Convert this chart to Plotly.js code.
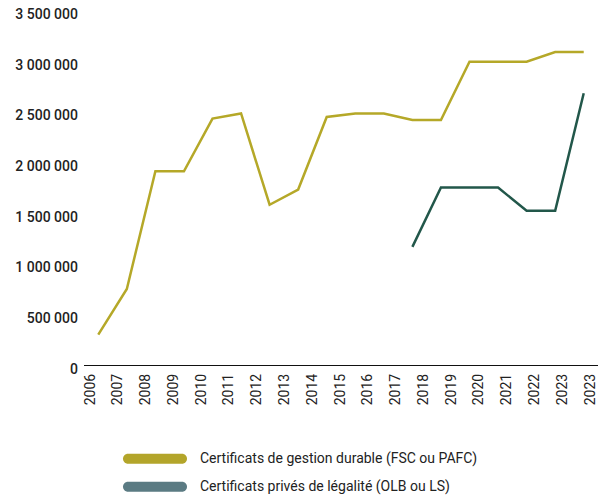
<!DOCTYPE html>
<html>
<head>
<meta charset="utf-8">
<script src="https://cdn.plot.ly/plotly-3.0.1.min.js"></script>
<style>
  html, body { margin: 0; padding: 0; background: #ffffff; }
  #chart { width: 598px; height: 497px; }
</style>
</head>
<body>
<div id="chart"></div>
<script>
// ---- Data ----
const years = ['2006','2007','2008','2009','2010','2011','2012','2013','2014','2015','2016','2017','2018','2019','2020','2021','2022','2023'];
const tickLabels = ['2006','2007','2008','2009','2010','2011','2012','2013','2014','2015','2016','2017','2018','2019','2020','2021','2022','2023','2023'];
const seriesNames = ['Certificats de gestion durable (FSC ou PAFC)', 'Certificats privés de légalité (OLB ou LS)'];
const fscPafc = [300000, 750000, 1910000, 1910000, 2430000, 2480000, 1580000, 1730000, 2445000, 2480000, 2480000, 2415000, 2415000, 2990000, 2990000, 2990000, 3085000, 3085000];
const olbLs = [null, null, null, null, null, null, null, null, null, null, null, 1165000, 1750000, 1750000, 1750000, 1520000, 1520000, 2680000];
const yTicks = [0, 500000, 1000000, 1500000, 2000000, 2500000, 3000000, 3500000];

// ---- Style ----
const lineColors = ['#b5a828', '#22574a'];
const legendColors = ['#b3a52a', '#5b7b83'];
const W = 598, H = 497;
const M = {l: 84, r: 0, t: 10, b: 132};
const plotW = W - M.l - M.r, plotH = H - M.t - M.b;
const font = 'Roboto, "Open Sans", sans-serif';

const traces = [
  {x: years, y: fscPafc, type: 'scatter', mode: 'lines', name: seriesNames[0],
   line: {color: lineColors[0], width: 2.5}, showlegend: false, hoverinfo: 'x+y'},
  {x: years, y: olbLs, type: 'scatter', mode: 'lines', name: seriesNames[1],
   line: {color: lineColors[1], width: 2.5}, showlegend: false, connectgaps: false, hoverinfo: 'x+y'},
  {x: tickLabels.map((_, i) => i), y: tickLabels.map(() => null), xaxis: 'x2', yaxis: 'y',
   type: 'scatter', mode: 'lines', showlegend: false, hoverinfo: 'skip'}
];

// legend (manual) positions in pixels
const legendRows = [458.7, 486.7];
const swatchCx = 155, textX = 198;
const px2paperX = px => (px - M.l) / plotW;
const py2paperY = py => (M.t + plotH - py) / plotH;
const k = 2.76;
const stadium = `M-27,5 L27,5 C${27+k},5 32,${k} 32,0 C32,${-k} ${27+k},-5 27,-5 L-27,-5 C${-27-k},-5 -32,${-k} -32,0 C-32,${k} ${-27-k},5 -27,5 Z`;

const shapes = legendRows.map((py, i) => ({
  type: 'path', xref: 'paper', yref: 'paper',
  xsizemode: 'pixel', ysizemode: 'pixel',
  xanchor: px2paperX(swatchCx), yanchor: py2paperY(py),
  path: stadium, fillcolor: legendColors[i], line: {width: 0}
}));
const annotations = legendRows.map((py, i) => ({
  xref: 'paper', yref: 'paper', x: px2paperX(textX), y: py2paperY(py),
  xanchor: 'left', yanchor: 'middle', showarrow: false, text: seriesNames[i],
  font: {family: font, size: 14, color: '#222222'}
}));

const layout = {
  width: W, height: H,
  margin: M,
  paper_bgcolor: '#ffffff', plot_bgcolor: '#ffffff',
  separators: ', ',
  showlegend: false,
  font: {family: font, color: '#222222'},
  xaxis: {
    type: 'category', range: [-0.5, years.length - 0.5],
    showticklabels: false, ticks: '', showgrid: false, zeroline: false,
    showline: true, linecolor: '#111111', linewidth: 1.2, fixedrange: true
  },
  xaxis2: {
    overlaying: 'x', anchor: 'y', side: 'bottom', type: 'linear',
    range: [-0.216, 18.289],
    tickmode: 'array', tickvals: tickLabels.map((_, i) => i), ticktext: tickLabels,
    tickangle: -90, ticks: '', showgrid: false, zeroline: false, showline: false,
    ticklabelstandoff: 5,
    tickfont: {family: font, size: 14, color: '#222222'}, fixedrange: true
  },
  yaxis: {
    range: [0, 3500000], tickmode: 'array', tickvals: yTicks, tickformat: ',d',
    ticks: '', showgrid: false, zeroline: false, showline: false,
    tickfont: {family: font, size: 14, color: '#222222', weight: 500},
    ticklabelshift: 4, ticklabelstandoff: 5, ticklabeloverflow: 'allow',
    fixedrange: true
  },
  shapes: shapes,
  annotations: annotations
};

Plotly.newPlot('chart', traces, layout, {displayModeBar: false, staticPlot: true});
</script>
</body>
</html>
